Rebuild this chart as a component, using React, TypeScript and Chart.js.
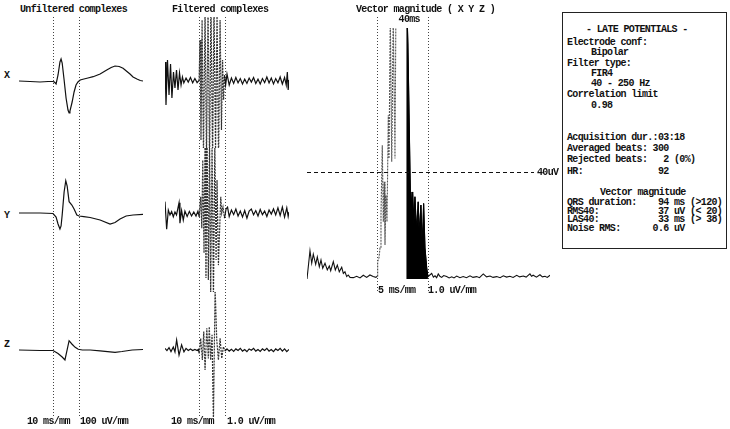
import React, { useEffect, useRef } from "react";
import { Chart, registerables } from "chart.js";

Chart.register(...registerables);

// ---------------- data ----------------
const QRS_ONSET_MS = 129;
const QRS_OFFSET_MS = 223;
const LAS_START_MS = 183;
const RMS_LIMIT_UV = 40;
const COMPLEX_TIME_MIN = 6;
const COMPLEX_TIME_MAX = 454;
const VECTOR_TIME_MIN = 0;
const VECTOR_TIME_MAX = 448;
const VECTOR_UV_MAX = 94;

// [time ms, amplitude uV]
const unfilteredX: [number, number][] = [
  [6, 0], [46, -18], [82, -37], [111, -18], [129, -18], [134, -40], [140, -110], [147, 221], [154, 699], [158, 810],
  [162, 662], [169, 37], [176, -626], [183, -1067], [187, -1178], [190, -1104], [198, -773], [205, -405], [212, -147],
  [219, -37], [227, 37], [237, 63], [255, 110], [274, 158], [299, 258], [323, 405], [339, 497], [353, 552], [368, 534],
  [382, 467], [396, 350], [407, 258], [418, 147], [432, 74], [444, 18], [454, 0],
];
const unfilteredY: [number, number][] = [
  [6, 0], [82, 0], [129, -18], [140, -147], [147, -405], [154, -589], [158, -478], [162, -74], [169, 773], [175, 1189],
  [180, 994], [187, 416], [197, 294], [205, 147], [215, -74], [223, -110], [240, -130], [263, -166], [299, -258],
  [335, -405], [353, -350], [371, -221], [393, -110], [418, -74], [454, -48],
];
const unfilteredZ: [number, number][] = [
  [6, 0], [82, -18], [129, -18], [147, -129], [162, -258], [172, -368], [187, 342], [197, 221], [209, 99], [220, 26],
  [235, 0], [263, 0], [299, -29], [335, -66], [353, -85], [378, -55], [415, 0], [454, 18],
];

const filteredX: [number, number][] = [
  [6, 7.0], [9.6, -8.9], [15, 7.8], [20.5, -5.2], [26, 6.3], [31, -6.3], [36.7, 3.3], [42, -2.6], [47.6, 4.1], [53, -3.3],
  [58.4, 3.0], [64, -1.5], [69, 1.5], [74, -0.7], [82, 1.1], [90, -0.4], [98, 1.3], [106, -0.7], [114, 0.9], [122, -0.6],
  [129, 0.2], [132.6, 15.2], [136, -21.9], [140, 22.6], [145, -27.4], [150.7, 26.3],
  [156, -29.3], [161.5, 28.1], [167, -31.1], [172, 30], [178, -29.3], [183, 28.1], [188.6, -25.6], [194, 24.4],
  [199.5, -29.3], [205, 22.6], [210, -18.1], [214, 7.8], [217.6, -7], [221, 2.2], [225, -1.5],
  [230, 2.6], [238, -1.5], [246, 1.1], [254, -0.9], [262, 1.3], [270, -0.7], [278, 0.9], [286, -1.1], [294, 0.7],
  [302, -0.9], [310, 1.1], [318, -0.4], [326, 1.3], [334, -0.9], [342, 0.7], [350, -1.1], [358, 0.9], [366, -0.6],
  [374, 1.5], [382, -0.7], [390, 1.1], [398, -1.1], [406, 0.9], [414, -0.7], [422, 1.5], [430, -1.1], [438, 1.3],
  [444, -1.5], [448, 3.3], [451, -3.3], [454, 0.4],
];
const filteredY: [number, number][] = [
  [6, 4.2], [12, -6.0], [18, 1.1], [24, -0.7], [30, 0.5], [36, -1.4], [42, 0.4], [47.6, -0.7], [56.7, 3.8], [60, -3.8],
  [66, 0.9], [72, -2.6], [78, 0.7], [86, -1.3], [94, 0.6], [102, -1.1], [110, 0.4], [118, -1.1], [125, 0.7], [130, -1.4],
  [135, 6.0], [139, -5.6], [142.4, 19.6], [147, -14.8], [150.7, 27], [154, -24.1], [158, 27],
  [162.6, -24.8], [167, 27], [171, -32], [176, 27], [181, -32], [186, 25], [190.5, -17.4], [194, 12.2], [199, -19.3],
  [207.5, 6.0], [211, 0], [215.5, 2.2], [221, -1.9], [226.6, 1.5],
  [232, 2.2], [238, -1.3], [246, 1.1], [254, -0.6], [262, 1.5], [270, -1.1], [278, 0.7], [286, -1.5], [294, 0.9],
  [302, -1.9], [310, 0.7], [318, 1.5], [326, -0.7], [334, 0.9], [342, -1.1], [350, 1.3], [358, -0.6], [366, 0.7],
  [374, -1.3], [382, 1.1], [390, -0.4], [398, 1.5], [406, -0.7], [414, 1.9], [422, -0.9], [430, 2.2], [438, -1.5],
  [446, 1.9], [451, -1.3], [454, 0.4],
];
const filteredZ: [number, number][] = [
  [6, 0.6], [13, -0.2], [20.5, 0.9], [27.7, -0.6], [36, 1.1], [42, -0.7], [48, 3.7], [56.7, -1.9], [66, 1.9], [74.5, -0.7],
  [82, 0.6], [90, -0.2], [98, 0.4], [106, -0.2], [114, 0.2], [122, -0.2], [126.5, 0.2], [130, -1.2], [135, 4.3],
  [141, -3.7], [146, 6.8], [150.7, -7.4], [157, 8.0], [162.6, -3.1], [166, 8.6], [171, -3.7], [176, 5.6], [181, -26],
  [187, 23], [193, 3.7], [199, -3.7], [205, 4.3], [211, -3.1], [217, 1.2], [223, -0.4],
  [230, 0.4], [238, -0.4], [246, 0.3], [254, -0.5], [262, 0.4], [270, -0.2], [278, 0.6], [286, -0.4], [294, 0.2],
  [302, -0.6], [310, 0.4], [318, -0.1], [326, 0.6], [334, -0.4], [342, 0.2], [350, -0.5], [358, 0.4], [366, -0.2],
  [374, 0.6], [382, -0.4], [390, 0.2], [398, -0.6], [406, 0.4], [414, -0.2], [422, 0.6], [430, -0.4], [438, 0.4],
  [446, -0.6], [454, 0.2],
];

const vectorMagnitude: [number, number][] = [
  [0, 0], [5.5, 10.6], [8.7, 5.9], [11.6, 9.3], [16, 5.5], [19, 8.3], [22.7, 4.6], [25.8, 7.1], [29, 4.0], [33.2, 5.9],
  [37.4, 3.4], [41.1, 4.9], [43.7, 3.1], [48.5, 6.5], [52.2, 3.4], [55.9, 5.2], [59.5, 2.7], [64, 4.4], [67, 2.1], [70, 2.7],
  [73.2, 0.9], [76, 1.5], [79.3, 0.6], [85.4, 0.5], [91.6, 1.0], [97.7, 0.4], [103.8, 1.4], [110, 0.6], [116, 1.5], [122, 0.9],
  [127, 0.6], [129.6, 1.1], [130.3, 6.5], [132.7, 8.0], [134.6, 11.6], [136.4, 23.9], [138.8, 50.1], [140.7, 21.4],
  [142.5, 36.4], [143.8, 12.7], [145.6, 31.4], [147.5, 21.4], [149.9, 61.3], [151.2, 45.1], [153.6, 98], [156.2, 43.9],
  [159, 98], [162.2, 45.1], [164.5, 120], [172, 160], [178, 140], [183, 110], [186, 88], [190.5, 32.6], [191.6, 25.8],
  [194.8, 32.6], [197, 20.6], [199, 30.8], [202, 17.6], [205, 28.9], [207, 16.1], [210, 27.7], [212.7, 11.6], [215, 28.3],
  [217.5, 11.6], [220.7, 4.1], [223, 0.9],
  [226.5, 1.5], [229.9, 2.1], [233, 0.7], [236, 1.2], [239, 0.5], [242, 1.9], [245, 1.0], [248.3, 0.6], [252, 1.3],
  [257.5, 0.9], [262, 0.4], [266.8, 0.8], [271, 0.4], [276, 1.1], [282, 0.5], [288, 0.9], [294, 0.5], [300.5, 1.2],
  [306, 0.6], [312.8, 0.9], [318, 0.5], [325, 1.9], [331, 0.8], [337.4, 1.1], [343, 0.6], [349.7, 0.9], [356, 0.5],
  [362, 1.2], [368, 0.7], [374, 1.0], [380, 0.6], [386.6, 1.4], [392, 0.8], [398.8, 1.1], [404, 0.7], [411, 1.9],
  [414, 1.0], [417, 1.4], [423, 0.7], [429.5, 1.6], [434, 0.8], [438.8, 1.0], [443, 0.6], [448, 1.4],
];

const PANEL_TITLES = ["Unfiltered complexes", "Filtered complexes", "Vector magnitude ( X Y Z )"];
const LEAD_NAMES = ["X", "Y", "Z"];
const SCALE_LABELS = ["10 ms/mm", "100 uV/mm", "10 ms/mm", "1.0 uV/mm", "5 ms/mm", "1.0 uV/mm"];
const RMS_LABEL = "40uV";
const LAS_LABEL = "40ms";
const REPORT_LINES = [
  "- LATE POTENTIALS -",
  "Electrode conf:",
  "Bipolar",
  "Filter type:",
  "FIR4",
  "40 - 250 Hz",
  "Correlation limit",
  "0.98",
  "Acquisition dur.:03:18",
  "Averaged beats: 300",
  "Rejected beats:   2 (0%)",
  "HR:              92",
  "Vector magnitude",
  "QRS duration:    94 ms (>120)",
  "RMS40:           37 uV (< 20)",
  "LAS40:           33 ms (> 38)",
  "Noise RMS:      0.6 uV",
];

// ---------------- layout ----------------
const FONT = "'Liberation Mono', 'DejaVu Sans Mono', monospace";
const INK = "#111";
const BANDS = [
  { top: 17, bottom: 148, zero: 81, labelY: 75 },
  { top: 148, bottom: 292, zero: 213, labelY: 215 },
  { top: 292, bottom: 417, zero: 350, labelY: 344 },
];
const UNFILTERED_PX_PER_UV = 1 / 36.8;
const FILTERED_PX_PER_UV = 2.7;
const TITLE_POS = [[20, 9], [172, 9], [356, 9]];
const SCALE_POS = [[27, 421], [80, 421], [171, 421], [227, 421], [378, 290], [428, 290]];
const REPORT_POS = [
  [586, 29], [567, 42], [591, 52], [567, 63], [591, 73], [591, 83], [567, 94], [591, 105],
  [567, 137], [567, 148], [567, 159], [567, 171], [600, 192], [567, 202], [567, 211], [567, 219], [567, 228],
];

const markerPlugin = (extTop: number, extBottom: number) => ({
  id: "qrsMarkers",
  beforeDatasetsDraw(chart: any) {
    const { ctx, chartArea, scales } = chart;
    ctx.save();
    ctx.strokeStyle = "#444";
    ctx.lineWidth = 1;
    ctx.setLineDash([1, 2]);
    for (const t of [QRS_ONSET_MS, QRS_OFFSET_MS]) {
      const x = Math.round(scales.x.getPixelForValue(t)) + 0.5;
      ctx.beginPath();
      ctx.moveTo(x, chartArea.top - extTop);
      ctx.lineTo(x, chartArea.bottom + extBottom);
      ctx.stroke();
    }
    ctx.restore();
  },
});

const vectorLabels = {
  id: "vectorLabels",
  afterDatasetsDraw(chart: any) {
    const { ctx, chartArea, scales } = chart;
    ctx.save();
    const y = Math.round(scales.y.getPixelForValue(RMS_LIMIT_UV)) + 0.5;
    ctx.strokeStyle = INK;
    ctx.lineWidth = 1;
    ctx.setLineDash([4, 3]);
    ctx.beginPath();
    ctx.moveTo(chartArea.left, y);
    ctx.lineTo(chartArea.right - 16, y);
    ctx.stroke();
    ctx.font = `bold 10px ${FONT}`;
    try { (ctx as any).letterSpacing = "-0.65px"; } catch (e) {}
    ctx.fillStyle = INK;
    ctx.textBaseline = "middle";
    ctx.textAlign = "left";
    ctx.fillText(RMS_LABEL, chartArea.right - 13, y);
    ctx.textAlign = "center";
    ctx.fillText(LAS_LABEL, scales.x.getPixelForValue(LAS_START_MS) + 3, 19);
    ctx.restore();
  },
};

const inQrs = (c: any) => c.p0.parsed.x >= QRS_ONSET_MS && c.p1.parsed.x <= QRS_OFFSET_MS;

function leadConfig(points: [number, number][], band: any, pxPerUv: number, dashedQrs: boolean) {
  return {
    type: "line",
    data: {
      datasets: [
        {
          data: points.map(([x, y]) => ({ x, y })),
          borderColor: INK,
          borderWidth: 1.2,
          pointRadius: 0,
          tension: 0,
          segment: dashedQrs
            ? {
                borderColor: (c: any) => (inQrs(c) ? "#333" : undefined),
                borderDash: (c: any) => (inQrs(c) ? [2, 1] : undefined),
              }
            : undefined,
        },
      ],
    },
    options: {
      animation: false,
      responsive: false,
      events: [],
      plugins: { legend: { display: false }, tooltip: { enabled: false } },
      layout: { padding: 0 },
      scales: {
        x: { type: "linear", min: COMPLEX_TIME_MIN, max: COMPLEX_TIME_MAX, display: false },
        y: { min: -(band.bottom - band.zero) / pxPerUv, max: (band.zero - band.top) / pxPerUv, display: false },
      },
    },
    plugins: [markerPlugin(0, 0)],
  };
}

function vectorConfig() {
  const inPre = (c: any) => c.p0.parsed.x >= QRS_ONSET_MS && c.p1.parsed.x <= LAS_START_MS;
  return {
    type: "line",
    data: {
      datasets: [
        {
          data: vectorMagnitude
            .filter(([t]) => t >= LAS_START_MS && t <= QRS_OFFSET_MS)
            .map(([x, y]) => ({ x, y })),
          borderColor: "#000",
          backgroundColor: "#000",
          borderWidth: 1,
          fill: "origin",
          pointRadius: 0,
          tension: 0,
        },
        {
          data: vectorMagnitude.map(([x, y]) => ({ x, y })),
          borderColor: INK,
          borderWidth: 1.1,
          pointRadius: 0,
          tension: 0,
          fill: false,
          segment: {
            borderColor: (c: any) => (inPre(c) ? "#555" : undefined),
            borderDash: (c: any) => (inPre(c) ? [2, 1] : undefined),
          },
        },
      ],
    },
    options: {
      animation: false,
      responsive: false,
      events: [],
      plugins: { legend: { display: false }, tooltip: { enabled: false } },
      layout: { padding: { left: 7, top: 28, right: 12, bottom: 21 } },
      scales: {
        x: { type: "linear", min: VECTOR_TIME_MIN, max: VECTOR_TIME_MAX, display: false },
        y: { min: 0, max: VECTOR_UV_MAX, display: false },
      },
    },
    plugins: [markerPlugin(11, 14), vectorLabels],
  };
}

function ChartCanvas(props: { left: number; top: number; width: number; height: number; make: () => any }) {
  const ref = useRef<HTMLCanvasElement | null>(null);
  useEffect(() => {
    if (!ref.current) return;
    const chart = new Chart(ref.current, props.make());
    return () => chart.destroy();
  }, []);
  return (
    <canvas
      ref={ref}
      width={props.width}
      height={props.height}
      style={{ position: "absolute", left: props.left, top: props.top, width: props.width, height: props.height }}
    />
  );
}

const textStyle: React.CSSProperties = {
  position: "absolute",
  fontFamily: FONT,
  fontSize: 10,
  fontWeight: 700,
  letterSpacing: "-0.65px",
  lineHeight: "10px",
  whiteSpace: "pre",
  color: INK,
};

function Label(props: { x: number; y: number; text: string }) {
  return <div style={{ ...textStyle, left: props.x, top: props.y - 4.5 }}>{props.text}</div>;
}

export default function App() {
  const unfiltered = [unfilteredX, unfilteredY, unfilteredZ];
  const filtered = [filteredX, filteredY, filteredZ];
  return (
    <div style={{ position: "fixed", left: 0, top: 0, width: 730, height: 429, background: "#fff", overflow: "hidden" }}>
      {BANDS.map((b, i) => (
        <ChartCanvas
          key={"u" + i}
          left={19}
          top={b.top}
          width={124}
          height={b.bottom - b.top}
          make={() => leadConfig(unfiltered[i], b, UNFILTERED_PX_PER_UV, false)}
        />
      ))}
      {BANDS.map((b, i) => (
        <ChartCanvas
          key={"f" + i}
          left={165}
          top={b.top}
          width={124}
          height={b.bottom - b.top}
          make={() => leadConfig(filtered[i], b, FILTERED_PX_PER_UV, true)}
        />
      ))}
      <ChartCanvas left={300} top={0} width={262} height={300} make={vectorConfig} />
      {PANEL_TITLES.map((t, i) => (
        <Label key={"t" + i} x={TITLE_POS[i][0]} y={TITLE_POS[i][1]} text={t} />
      ))}
      {LEAD_NAMES.map((n, i) => (
        <Label key={"l" + i} x={4} y={BANDS[i].labelY} text={n} />
      ))}
      {SCALE_LABELS.map((s, i) => (
        <Label key={"s" + i} x={SCALE_POS[i][0]} y={SCALE_POS[i][1]} text={s} />
      ))}
      <div
        style={{
          position: "absolute",
          left: 562,
          top: 12,
          width: 165,
          height: 237,
          boxSizing: "border-box",
          border: "1px solid #222",
        }}
      />
      {REPORT_LINES.map((s, i) => (
        <Label key={"r" + i} x={REPORT_POS[i][0]} y={REPORT_POS[i][1]} text={s} />
      ))}
    </div>
  );
}
